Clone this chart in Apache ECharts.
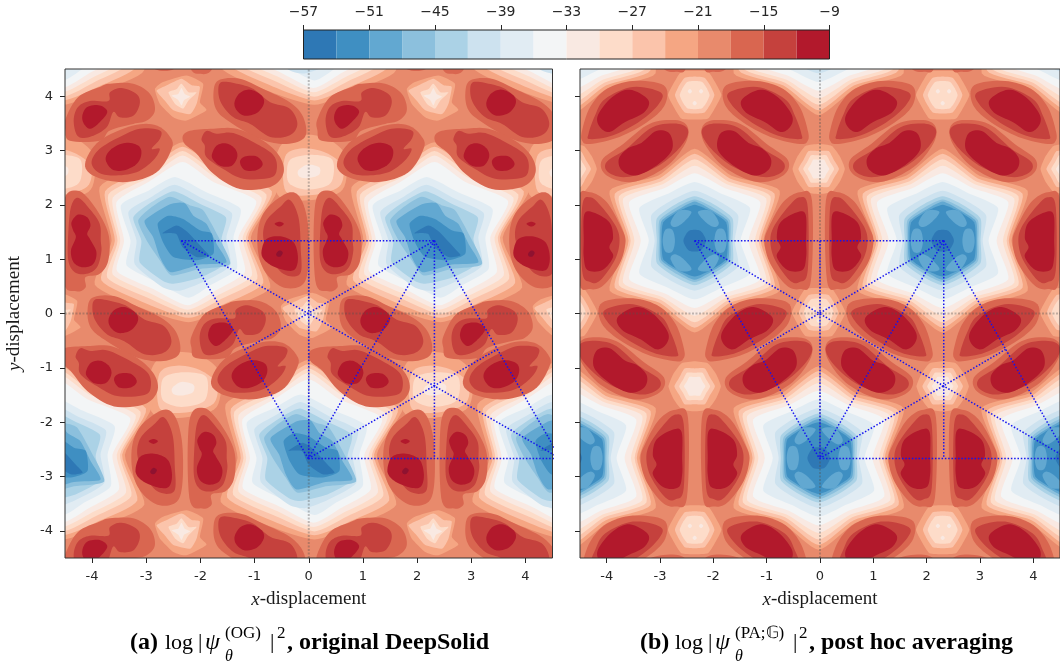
<!DOCTYPE html>
<html><head><meta charset="utf-8">
<style>html,body{margin:0;padding:0;background:#fff;overflow:hidden}#c{width:1060px;height:663px}</style>
<script src="https://cdn.jsdelivr.net/npm/echarts@6/dist/echarts.min.js"></script>
</head><body><div id="c"></div>
<script>
// colour bands of the colour bar (lowest to highest), and band edges
const bandEdges=[-57,-54,-51,-48,-45,-42,-39,-36,-33,-30,-27,-24,-21,-18,-15,-12,-9];
const bandColors=['#2e78b5','#3f8fc2','#62a8d1','#8cc0dd','#abd2e6','#cde2ef','#e1ecf3','#f3f5f6','#f9e9e2','#fddcc9','#fbc4ab','#f5a683','#e88a6c','#d96650','#c5413d','#b2192c','#8f1230'];
const colorbarTicks=[-57,-51,-45,-39,-33,-27,-21,-15,-9];
const tickValues=[-4,-3,-2,-1,0,1,2,3,4];
// repeat sites of the pattern, read from the well and lobe positions
const latticeSites=[[-2.325,4],[2.325,4],[6.975,4],[0,0],[4.65,0],[9.3,0],[-2.325,-4],[2.325,-4],[6.975,-4],[0,-8],[4.65,-8],[9.3,-8]];
// guide segments drawn over each panel
const blueSegments=[
[[-2.35,1.34],[2.32,1.34]],[[-2.35,1.34],[4.65,-2.67]],[[-2.35,1.34],[-0.01,-2.67]],
[[2.32,1.34],[-1.17,-0.66]],[[2.32,1.34],[-0.01,-2.67]],[[2.32,1.34],[4.65,-2.67]],
[[-0.01,-2.67],[3.48,-0.66]],[[-0.01,-2.67],[4.65,-2.67]],[[0,1.34],[0,-2.67]],[[2.32,1.34],[2.32,-2.67]]];
const greySegments=[[[0,-4.5],[0,4.5]],[[-4.5,0],[4.5,0]]];
const panelFrame=[[-4.5,-4.5],[4.5,-4.5],[4.5,4.5],[-4.5,4.5],[-4.5,-4.5]];

// ---- panel (a): contours of each level, [band index, x,y,x,y,...] in displacement units
const aWell=[
[11,[-2.33,3.15,-1.64,2.75,-.56,2.36,-1.07,1.40,-.71,.48,-1.52,.09,-2.22,-.16,-3.06,.09,-3.95,.53,-3.64,1.34,-3.86,2.33,-2.99,2.75]],
[10,[-2.33,3.07,-1.67,2.66,-.68,2.25,-1.12,1.40,-.84,.56,-1.55,.18,-2.22,-.08,-2.99,.18,-3.83,.61,-3.58,1.34,-3.76,2.25,-2.96,2.66]],
[9,[-2.33,2.99,-1.70,2.58,-.78,2.19,-1.16,1.40,-.95,.64,-1.61,.27,-2.22,-.01,-2.93,.27,-3.72,.66,-3.53,1.34,-3.70,2.19,-2.95,2.58]],
[8,[-2.33,2.91,-1.73,2.51,-.87,2.13,-1.22,1.40,-1.05,.70,-1.67,.34,-2.24,.07,-2.90,.36,-3.62,.72,-3.48,1.34,-3.62,2.13,-2.93,2.51]],
[7,[-2.33,2.79,-1.76,2.42,-.97,2.07,-1.30,1.40,-1.18,.76,-1.73,.42,-2.24,.15,-2.87,.45,-3.54,.78,-3.41,1.34,-3.55,2.05,-2.96,2.42]],
[6,[-2.47,2.51,-1.89,2.23,-1.26,1.93,-1.39,1.40,-1.33,.82,-1.82,.52,-2.22,.29,-2.75,.55,-3.36,.88,-3.29,1.34,-3.47,1.99,-2.96,2.26]],
[5,[-2.48,2.37,-1.95,2.11,-1.42,1.85,-1.52,1.40,-1.45,.88,-1.95,.58,-2.38,.42,-2.69,.48,-3.21,.90,-3.18,1.34,-3.33,1.87,-2.93,2.13]],
[4,[-2.49,2.25,-2.01,2.02,-1.53,1.77,-1.61,1.37,-1.52,.94,-1.98,.67,-2.47,.55,-2.69,.60,-3.12,.94,-3.09,1.34,-3.24,1.77,-2.90,2.05]],
[3,[-2.56,2.15,-2.19,1.99,-1.95,1.90,-1.70,1.47,-1.45,.91,-2.01,.82,-2.53,.70,-2.75,.98,-2.99,1.34,-3.15,1.71,-2.90,1.96]],
[2,[-3.03,1.71,-2.56,2.01,-2.29,2.03,-2.13,1.80,-1.89,1.65,-1.70,1.28,-1.52,.94,-2.01,.90,-2.55,.76,-2.75,1.04,-2.87,1.40]],
[1,[-2.79,1.65,-2.59,1.80,-2.32,1.74,-2.01,1.53,-1.79,1.47,-1.76,1.10,-2.07,.98,-2.50,1.04,-2.69,1.31]],
[0,[-2.70,1.48,-2.44,1.62,-2.24,1.50,-1.95,1.19,-1.85,1.07,-2.07,1.04,-2.33,1.22,-2.44,1.46,-2.59,1.48]]];
const aStarTop=[
[11,[-2.84,4.13,-2.69,4.26,-2.26,4.38,-1.95,4.23,-2.01,3.89,-1.89,3.74,-2.26,3.55,-2.50,3.61,-2.75,3.86]],
[10,[-2.81,4.10,-2.62,4.20,-2.35,4.32,-2.16,4.20,-2.01,4.17,-2.07,3.86,-2.19,3.67,-2.50,3.74,-2.66,3.92]],
[9,[-2.59,4.07,-2.44,4.13,-2.35,4.23,-2.22,4.07,-2.07,4.07,-2.22,3.92,-2.32,3.77,-2.47,3.86]],
[8,[-2.53,4.01,-2.41,4.04,-2.35,4.15,-2.29,4.04,-2.19,3.99,-2.30,3.93,-2.35,3.83,-2.41,3.93]]];
const aStarLow=[
[11,[-2.81,-.87,-2.38,-.71,-1.95,-.80,-1.64,-1.11,-1.70,-1.72,-2.26,-1.91,-2.87,-1.85,-2.96,-1.29]],
[10,[-2.76,-1.11,-2.44,-.96,-2.01,-1.04,-1.70,-1.29,-1.76,-1.66,-2.26,-1.82,-2.75,-1.75]],
[9,[-2.72,-1.29,-2.62,-1.14,-2.26,-1.08,-1.89,-1.17,-1.92,-1.60,-2.35,-1.72,-2.69,-1.60]],
[8,[-2.52,-1.37,-2.35,-1.26,-2.13,-1.31,-2.14,-1.45,-2.35,-1.51,-2.50,-1.48]]];
const aLobeP=[
[13,[-4.49,3.58,-4.26,3.98,-3.86,4.17,-3.67,4.23,-3.24,4.23,-2.93,4.04,-2.84,3.74,-2.99,3.55,-3.24,3.49,-3.67,3.37,-3.86,3.18,-4.41,3.18,-4.49,3.37]],
[14,[-4.34,3.55,-4.26,3.80,-4.04,3.91,-3.70,3.91,-3.67,4.07,-3.46,4.15,-3.18,4.04,-3.12,3.86,-3.24,3.64,-3.49,3.61,-3.61,3.71,-3.73,3.43,-4.01,3.26,-4.26,3.26]],
[15,[-4.18,3.64,-4.09,3.80,-3.86,3.83,-3.72,3.71,-3.86,3.52,-4.03,3.40,-4.15,3.49]]];
const aLobeQ=[
[13,[-4.13,2.75,-3.86,3.18,-3.24,3.46,-2.81,3.46,-2.56,3.25,-2.53,3.03,-2.81,2.60,-3.36,2.42,-3.92,2.51]],
[14,[-4.01,2.79,-3.86,3.03,-3.49,3.25,-3.12,3.40,-2.75,3.37,-2.75,3.21,-2.90,3.03,-2.75,3.03,-2.87,2.82,-3.18,2.60,-3.61,2.54,-3.89,2.60]],
[15,[-3.75,2.85,-3.64,3.03,-3.39,3.14,-3.15,3.09,-3.09,2.94,-3.18,2.75,-3.43,2.63,-3.64,2.66]]];
const aLobeR=[
[13,[-1.76,4.04,-1.67,4.29,-1.27,4.32,-.84,4.13,-.35,3.89,-.10,3.61,-.07,3.25,-.41,3.12,-.90,3.21,-1.45,3.52,-1.70,3.74]],
[14,[-1.67,4.10,-1.61,4.26,-1.33,4.23,-1.02,4.13,-.71,3.89,-.35,3.77,-.21,3.49,-.35,3.28,-.71,3.25,-1.08,3.49,-1.39,3.61,-1.61,3.86]],
[15,[-1.37,3.89,-1.27,4.06,-1.08,4.12,-.87,4.01,-.83,3.86,-.96,3.69,-1.18,3.64,-1.33,3.74]]];
const aLobeS=[
[13,[-2.32,3.28,-2.16,3.37,-1.76,3.40,-1.33,3.40,-.84,3.18,-.53,2.88,-.47,2.57,-.71,2.33,-1.27,2.29,-1.76,2.57,-2.07,2.94,-2.29,3.12]],
[14,[-1.98,3.21,-1.89,3.36,-1.70,3.31,-1.39,3.32,-.96,3.12,-.65,2.91,-.59,2.66,-.71,2.50,-1.21,2.48,-1.58,2.66,-1.89,2.88,-1.92,3.09]],
[15,[-1.79,2.91,-1.70,3.09,-1.52,3.13,-1.36,3.03,-1.32,2.88,-1.42,2.72,-1.61,2.71,-1.73,2.79]],
[15,[-1.27,2.79,-1.18,2.89,-.96,2.89,-.85,2.75,-.96,2.64,-1.18,2.64]]];
const aLobeT=[
[13,[-4.53,2.02,-4.26,2.26,-3.95,1.96,-3.70,1.47,-3.70,.98,-3.86,.73,-4.12,.67,-4.12,.48,-4.29,.41,-4.53,.61]],
[14,[-4.39,1.96,-4.26,2.13,-4.05,1.93,-3.86,1.65,-3.84,1.34,-3.83,1.13,-3.91,.85,-4.10,.73,-4.32,.76,-4.44,.98,-4.44,1.47]],
[15,[-4.38,1.68,-4.26,1.82,-4.09,1.77,-4.03,1.62,-4.09,1.47,-4.04,1.37,-3.92,1.13,-3.98,.91,-4.17,.85,-4.34,.94,-4.39,1.16,-4.30,1.40,-4.35,1.53]]];
const aLobeV=[
[13,[-.35,2.23,-.13,2.08,-.01,1.59,-.01,.85,-.13,.52,-.47,.48,-.78,.73,-.93,1.10,-.93,1.59,-.75,1.96]],
[14,[-.35,2.09,-.19,1.77,-.15,1.22,-.16,.73,-.47,.73,-.71,1.04,-.84,1.40,-.78,1.71,-.53,1.96]],
[15,[-.87,1.16,-.78,1.37,-.53,1.42,-.28,1.31,-.20,1.04,-.25,.82,-.41,.79,-.68,.88,-.84,1.01]],
[15,[-.63,1.65,-.54,1.69,-.46,1.65,-.54,1.60]],
[16,[-.60,1.10,-.54,1.16,-.48,1.12,-.52,1.05,-.58,1.05]]];

// ---- panel (b)
const bWellCenter=[-2.35,1.34];
const bStarTopCenter=[-2.35,4.02];
const bStarLowCenter=[-2.35,-1.34];
// radii at 0,30,...,330 degrees round the centre of each feature
const bWellRadii=[
[11,[1.29,1.84,1.38,1.69,1.38,1.84,1.29,1.84,1.38,1.69,1.38,1.84]],
[10,[1.24,1.73,1.32,1.60,1.32,1.73,1.24,1.73,1.32,1.60,1.32,1.73]],
[9,[1.20,1.64,1.26,1.50,1.26,1.64,1.20,1.64,1.26,1.50,1.26,1.64]],
[8,[1.13,1.55,1.20,1.38,1.20,1.55,1.13,1.55,1.20,1.38,1.20,1.55]],
[7,[1.01,1.42,1.12,1.24,1.12,1.42,1.01,1.42,1.12,1.24,1.12,1.42]],
[6,[.86,1.20,1.00,1.08,1.00,1.20,.86,1.20,1.00,1.08,1.00,1.20]],
[5,[.75,.94,.86,.92,.86,.94,.75,.94,.86,.92,.86,.94]],
[4,[.71,.82,.76,.82,.76,.82,.71,.82,.76,.82,.76,.82]],
[3,[.67,.76,.70,.76,.70,.76,.67,.76,.70,.76,.70,.76]],
[2,[.645,.72,.65,.72,.65,.72,.645,.72,.65,.72,.65,.72]],
[1,[.62,.68,.62,.66,.62,.68,.62,.68,.62,.66,.62,.68]]];
const bCoreRadii=[[0,[.21,.2,.21,.2,.21,.2,.21,.2,.21,.2,.21,.2]]];
const bStarTopRadii=[
[11,[.5,.45,.5,.45,.5,.45,.5,.45,.5,.45,.5,.45]],
[10,[.37,.34,.37,.34,.37,.34,.37,.34,.37,.34,.37,.34]],
[9,[.28,.26,.28,.26,.28,.26,.28,.26,.28,.26,.28,.26]]];
const bStarLowRadii=[
[11,[.49,.46,.49,.46,.49,.46,.49,.46,.49,.46,.49,.46]],
[10,[.38,.33,.38,.33,.38,.33,.38,.33,.38,.33,.38,.33]],
[9,[.29,.25,.29,.25,.29,.25,.29,.25,.29,.25,.29,.25]],
[8,[.2,.17,.2,.17,.2,.17,.2,.17,.2,.17,.2,.17]]];
// lighter petals inside the well disc, offsets from the well centre
const bPetals=[
[2,[.37,0,.42,.2,.55,.2,.6,0,.55,-.2,.42,-.2]],
[2,[-.37,0,-.42,.2,-.55,.2,-.6,0,-.55,-.2,-.42,-.2]],
[2,[.06,.53,.3,.55,.45,.34,.38,.25,.22,.33]],
[2,[-.06,.53,-.3,.55,-.45,.34,-.38,.25,-.22,.33]],
[2,[.06,-.53,.3,-.55,.45,-.34,.38,-.25,.22,-.33]],
[2,[-.06,-.53,-.3,-.55,-.45,-.34,-.38,-.25,-.22,-.33]]];
const bStarTopSpots=[[8,[-.13,.07,-.09,.11,-.05,.07,-.09,.03]],[8,[.08,.07,.12,.11,.16,.07,.12,.03]],[8,[-.04,-.15,0,-.11,.04,-.15,0,-.19]]];
const bLobe1=[
[13,[-4.46,3.37,-4.31,3.80,-4.00,4.13,-3.51,4.28,-2.93,4.20,-2.90,3.86,-3.20,3.55,-3.76,3.25,-4.31,3.12,-4.46,3.18]],
[14,[-4.34,3.31,-4.22,3.64,-4.03,3.95,-3.51,4.17,-2.99,4.07,-3.02,3.86,-3.36,3.55,-3.88,3.28,-4.31,3.21]],
[15,[-4.16,3.66,-3.90,3.98,-3.57,4.12,-3.22,3.93,-3.30,3.70,-3.66,3.52,-3.95,3.34,-4.14,3.45]]];
const bLobe2=[
[13,[-4.09,2.82,-3.69,3.12,-3.20,3.49,-2.71,3.56,-2.48,3.43,-2.53,3.12,-2.90,2.69,-3.51,2.42,-4.00,2.54]],
[14,[-4.00,2.79,-3.63,3.03,-3.14,3.43,-2.65,3.49,-2.47,3.34,-2.65,3.03,-3.08,2.69,-3.63,2.51,-3.97,2.60]],
[15,[-3.77,2.85,-3.60,3.04,-3.35,3.14,-3.07,3.36,-2.82,3.31,-2.78,3.00,-3.10,2.70,-3.46,2.54,-3.72,2.64]]];
const bLobe3=[
[13,[-.60,2.82,-1.00,3.12,-1.49,3.49,-1.98,3.56,-2.21,3.43,-2.16,3.12,-1.79,2.69,-1.18,2.42,-.69,2.54]],
[14,[-.69,2.79,-1.06,3.03,-1.55,3.43,-2.04,3.49,-2.22,3.34,-2.04,3.03,-1.61,2.69,-1.06,2.51,-.72,2.60]],
[15,[-.92,2.85,-1.09,3.04,-1.34,3.14,-1.62,3.36,-1.87,3.31,-1.91,3.00,-1.59,2.70,-1.23,2.54,-.97,2.64]]];
const bLobe4=[
[13,[-.23,3.37,-.38,3.80,-.69,4.13,-1.18,4.28,-1.76,4.20,-1.79,3.86,-1.49,3.55,-.93,3.25,-.38,3.12,-.23,3.18]],
[14,[-.35,3.31,-.47,3.64,-.66,3.95,-1.18,4.17,-1.70,4.07,-1.67,3.86,-1.33,3.55,-.81,3.28,-.38,3.21]],
[15,[-.53,3.66,-.79,3.98,-1.12,4.12,-1.47,3.93,-1.39,3.70,-1.03,3.52,-.74,3.34,-.55,3.45]]];
const bLobe5=[
[13,[-4.54,2.08,-4.31,2.23,-4.00,2.05,-3.73,1.59,-3.65,1.31,-3.76,.91,-4.06,.52,-4.31,.45,-4.52,.61]],
[14,[-4.46,1.96,-4.31,2.14,-4.09,1.96,-3.82,1.59,-3.76,1.31,-3.85,.98,-4.12,.61,-4.31,.58,-4.46,.79]],
[15,[-4.42,1.82,-4.25,1.86,-3.95,1.68,-3.88,1.40,-3.95,1.22,-3.88,1.04,-4.08,.80,-4.36,.80,-4.43,1.04,-4.43,1.34]]];
const bLobe6=[
[13,[-.15,2.08,-.38,2.23,-.69,2.05,-.96,1.59,-1.04,1.31,-.93,.91,-.63,.52,-.38,.45,-.17,.61]],
[14,[-.23,1.96,-.38,2.14,-.60,1.96,-.87,1.59,-.93,1.31,-.84,.98,-.57,.61,-.38,.58,-.23,.79]],
[15,[-.27,1.82,-.44,1.86,-.74,1.68,-.81,1.40,-.74,1.22,-.81,1.04,-.61,.80,-.33,.80,-.26,1.04,-.26,1.34]]];

// ---- helpers: turn the lists above into polygons placed at the repeat sites
function pairs(flat){const o=[];for(let i=0;i<flat.length;i+=2)o.push([flat[i],flat[i+1]]);return o;}
function fromFlat(groups,origin,smooth){return groups.map(g=>({level:g[0],smooth,pts:pairs(g[1]).map(p=>[p[0]+origin[0],p[1]+origin[1]])}));}
function fromRadii(groups,c,smooth){return groups.map(g=>({level:g[0],smooth,pts:g[1].map((r,i)=>{const t=i*Math.PI/6;return [c[0]+r*Math.cos(t),c[1]+r*Math.sin(t)];})}));}
function atSites(shapes){const o=[];latticeSites.forEach(s=>shapes.forEach(c=>o.push({level:c.level,smooth:c.smooth,pts:c.pts.map(p=>[p[0]+s[0],p[1]+s[1]])})));return o;}
// low bands paint from the outside in, high bands paint last
function ordered(list){const rank=l=>l<=11?11-l:l+1;return list.map((c,i)=>[c,i]).sort((a,b)=>rank(a[0].level)-rank(b[0].level)||a[1]-b[1]).map(x=>x[0]);}
// rounds a closed outline (same job as a line's "smooth" option); s is the tangent strength
function rounded(p,s){if(!s)return p;const n=p.length,o=[];for(let i=0;i<n;i++){const a=p[(i+n-1)%n],b=p[i],c=p[(i+1)%n],d=p[(i+2)%n];
  for(let k=0;k<8;k++){const t=k/8,t2=t*t,t3=t2*t,h1=2*t3-3*t2+1,h2=t3-2*t2+t,h3=-2*t3+3*t2,h4=t3-t2;
    o.push([h1*b[0]+h2*s*(c[0]-a[0])+h3*c[0]+h4*s*(d[0]-b[0]),h1*b[1]+h2*s*(c[1]-a[1])+h3*c[1]+h4*s*(d[1]-b[1])]);}}return o;}

const zero=[0,0];
const panelA=ordered(atSites([].concat(
  fromFlat(aWell,zero,.3),fromFlat(aStarTop,zero,.25),fromFlat(aStarLow,zero,.45),
  fromFlat(aLobeP,zero,.5),fromFlat(aLobeQ,zero,.5),fromFlat(aLobeR,zero,.5),fromFlat(aLobeS,zero,.5),fromFlat(aLobeT,zero,.5),fromFlat(aLobeV,zero,.5))));
const panelB=ordered(atSites([].concat(
  fromRadii(bWellRadii,bWellCenter,.3),fromRadii(bStarTopRadii,bStarTopCenter,.25),fromRadii(bStarLowRadii,bStarLowCenter,.25),
  fromFlat(bStarTopSpots,bStarTopCenter,.5),
  fromFlat(bLobe1,zero,.5),fromFlat(bLobe2,zero,.5),fromFlat(bLobe3,zero,.5),fromFlat(bLobe4,zero,.5),fromFlat(bLobe5,zero,.5),fromFlat(bLobe6,zero,.5))))
  .concat(atSites(fromFlat(bPetals,bWellCenter,.5)),atSites(fromRadii(bCoreRadii,bWellCenter,.5)));
const colorbarBands=bandEdges.slice(0,-1).map((lo,i)=>({level:i,smooth:0,pts:[[lo,0],[bandEdges[i+1],0],[bandEdges[i+1],1],[lo,1]]}));

function contourSeries(list,idx){return {type:'custom',xAxisIndex:idx,yAxisIndex:idx,clip:true,silent:true,animation:false,progressive:0,z:2,
  data:list.map(()=>[0,0]),
  renderItem:(params,api)=>{const c=list[params.dataIndex];return {type:'polygon',shape:{points:rounded(c.pts.map(p=>api.coord(p)),c.smooth)},style:{fill:bandColors[c.level]}};}};}
function lineSeries(idx,pts,color,width,dash,clip,z){return {type:'line',xAxisIndex:idx,yAxisIndex:idx,data:pts,symbol:'none',silent:true,animation:false,clip,z,lineStyle:{color,width,type:dash}};}

const ink='#262626';
const serif='"Liberation Serif",serif', sans='"DejaVu Sans",sans-serif';
function panelAxes(idx,labels){
  const nameStyle={fontFamily:serif,fontSize:19,color:'#1a1a1a',rich:{i:{fontFamily:serif,fontSize:19,fontStyle:'italic',color:'#1a1a1a'},n:{fontFamily:serif,fontSize:19,color:'#1a1a1a'}}};
  const common={type:'value',min:-4.5,max:4.5,gridIndex:idx,splitLine:{show:false},axisLine:{show:false,onZero:false},
    axisTick:{show:true,length:5,customValues:tickValues,lineStyle:{color:ink,width:1}}};
  return {
    x:Object.assign({},common,{position:'bottom',axisLabel:{show:true,customValues:tickValues,color:ink,fontFamily:sans,fontSize:13,margin:12,showMinLabel:true,showMaxLabel:true},
      name:'{i|x}{n|-displacement}',nameLocation:'middle',nameGap:32,nameTextStyle:nameStyle}),
    y:Object.assign({},common,{position:'left',axisLabel:{show:labels,customValues:tickValues,color:ink,fontFamily:sans,fontSize:13,margin:12},
      name:labels?'{i|y}{n|-displacement}':'',nameLocation:'middle',nameGap:41,nameTextStyle:nameStyle})};
}
const axA=panelAxes(0,true), axB=panelAxes(1,false);

function cap(x,y,text,font,fill){return {type:'text',silent:true,x,y,style:{text,font,fill:fill||'#000',verticalAlign:'middle'}};}
const B='bold 24px '+serif, R='22px '+serif, I='italic 24px '+serif, S='17px '+serif, ST='italic 16px '+serif;
const captions=[
 cap(130,643,'(a)',B),cap(165,643,'log',R),cap(198,642,'|',R),cap(205,643,'ψ',I),cap(225,634,'(OG)',S),cap(225,657,'θ',ST),cap(270,642,'|',R),cap(277,634,'2',S),cap(287,643,', original DeepSolid',B),
 cap(640,643,'(b)',B),cap(675,643,'log',R),cap(708,642,'|',R),cap(715,643,'ψ',I),cap(735,634,'(PA;𝔾)',S),cap(735,657,'θ',ST),cap(793,642,'|',R),cap(799,634,'2',S),cap(809,643,', post hoc averaging',B)];

const chart=echarts.init(document.getElementById('c'),null,{renderer:'canvas'});
const oneSide=(idx,list)=>[contourSeries(list,idx),
  ...greySegments.map(s=>lineSeries(idx,s,'rgba(80,80,80,0.35)',2,[2,1.5],true,3)),
  ...blueSegments.map(s=>lineSeries(idx,s,'#1414f0',1.5,[1.5,1.8],true,4)),
  lineSeries(idx,panelFrame,'#333333',1,'solid',false,5)];
chart.setOption({
  animation:false,backgroundColor:'#fff',tooltip:{show:false},
  grid:[
    {left:65,top:69,width:487.5,height:489,show:true,backgroundColor:bandColors[12],borderWidth:0},
    {left:580,top:69,width:489,height:489,show:true,backgroundColor:bandColors[12],borderWidth:0},
    {left:303.5,top:30,width:526,height:29,show:false}],
  xAxis:[axA.x,axB.x,{type:'value',gridIndex:2,min:-57,max:-9,position:'top',splitLine:{show:false},axisLine:{show:false,onZero:false},
    axisTick:{show:true,length:5,customValues:colorbarTicks,lineStyle:{color:ink}},
    axisLabel:{show:true,customValues:colorbarTicks,color:ink,fontFamily:sans,fontSize:14,margin:11,showMinLabel:true,showMaxLabel:true,formatter:v=>String(v).replace('-','\u2212')}}],
  yAxis:[axA.y,axB.y,{type:'value',gridIndex:2,min:0,max:1,show:false}],
  graphic:captions,
  series:[...oneSide(0,panelA),...oneSide(1,panelB),contourSeries(colorbarBands,2),
    lineSeries(2,[[-57,0],[-9,0],[-9,1],[-57,1],[-57,0]],'#222222',1,'solid',false,5)]
});
</script></body></html>
